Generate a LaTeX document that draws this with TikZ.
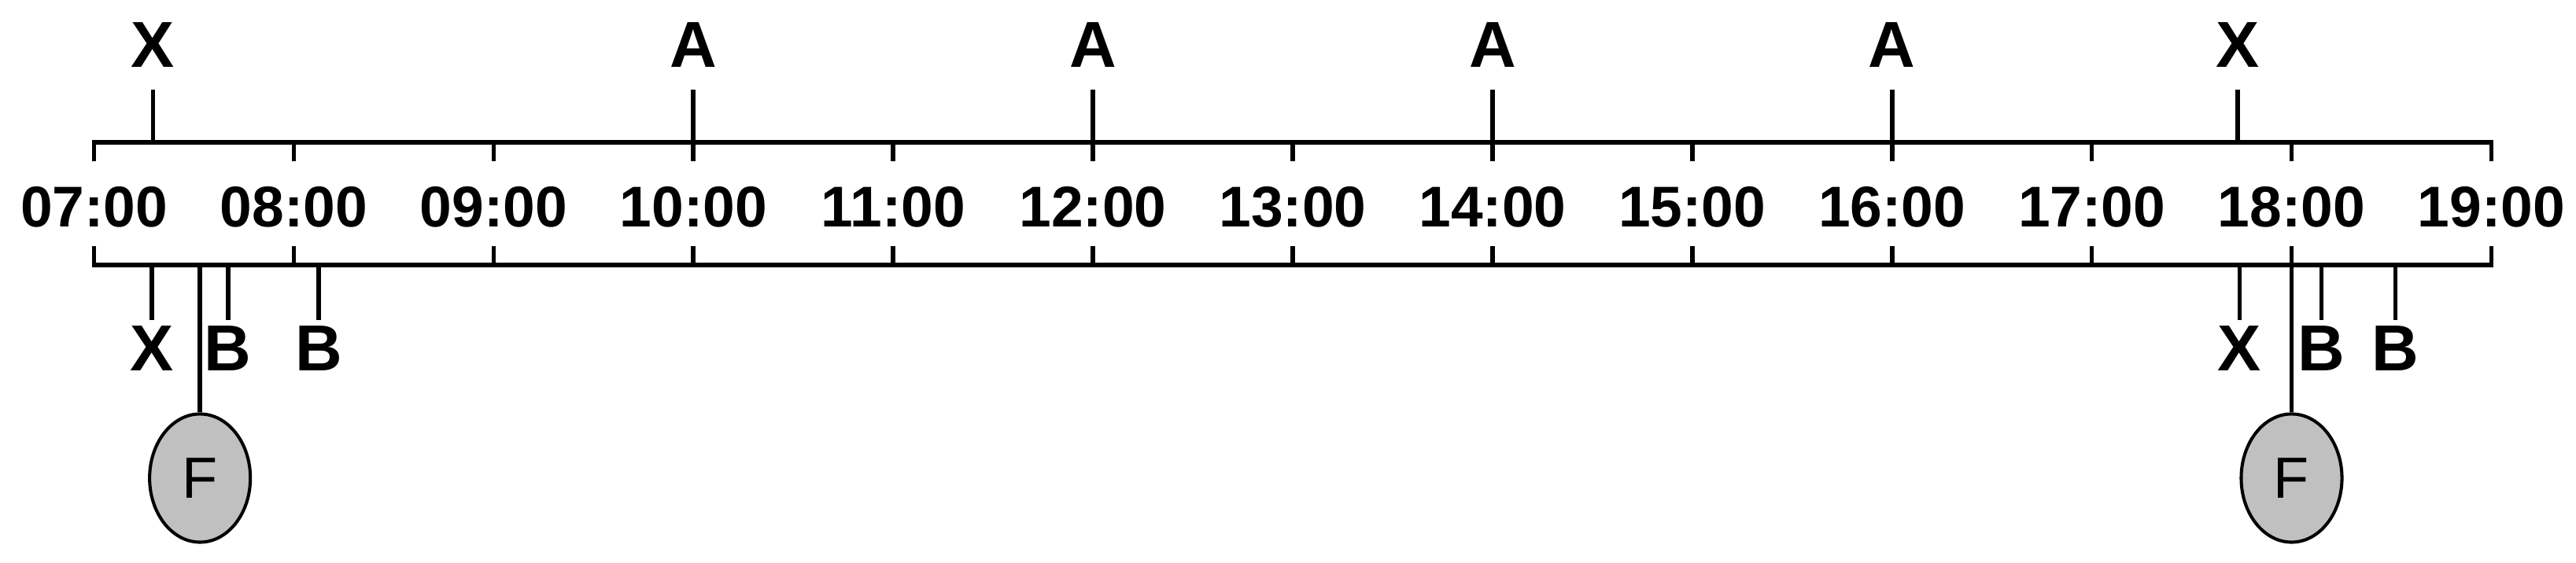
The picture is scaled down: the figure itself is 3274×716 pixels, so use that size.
\documentclass[tikz,border=0pt]{standalone}
\usepackage{fontspec}
\setmainfont{Liberation Sans}
\usetikzlibrary{shapes.geometric}
\begin{document}
\begin{tikzpicture}[x=0.01cm,y=-0.01cm,
  axisline/.style={line width=1.6pt, line cap=rect},
  hourtick/.style={line width=1.6pt},
  hourlabel/.style={font=\fontsize{20.8}{21}\selectfont\bfseries, inner sep=0pt},
  toplabel/.style={font=\fontsize{23.5}{24}\selectfont\bfseries, inner sep=0pt, outer sep=0.28cm},
  botlabel/.style={font=\fontsize{23.5}{24}\selectfont\bfseries, inner sep=0pt, outer sep=0.08cm},
  fnode/.style={ellipse, draw, line width=1.15pt, fill=fgray, minimum width=1.28cm, minimum height=1.63cm, inner sep=0pt, font=\fontsize{21}{21}\selectfont}
]
\definecolor{fgray}{RGB}{192,192,192}
\useasboundingbox (0,0) rectangle (3274,716);
% hours
\foreach \h/\t in {7/07,8/08,9/09,10/10,11/11,12/12,13/13,14/14,15/15,16/16,17/17,18/18,19/19} {
  \pgfmathsetmacro{\xx}{119.6+253.9*(\h-7)}
  \coordinate (ht\h) at (\xx,181);
  \coordinate (hb\h) at (\xx,337);
  \coordinate (htt\h) at (\xx,205);
  \coordinate (hbb\h) at (\xx,313);
  \draw[hourtick] (ht\h) -- (htt\h);
  \draw[hourtick] (hb\h) -- (hbb\h);
  \node[hourlabel] (lab\h) at (\xx,263) {\t:00};
}
\draw[axisline] (ht7) -- (ht19);
\draw[axisline] (hb7) -- (hb19);
% top markers
\foreach \n/\h/\l in {1/7.295/X, 2/10/A, 3/12/A, 4/14/A, 5/16/A, 6/17.73/X} {
  \pgfmathsetmacro{\xx}{119.6+253.9*(\h-7)}
  \coordinate (tc\n) at (\xx,181);
  \node[toplabel] (top\n) at (\xx,57.5) {\l};
  \draw[hourtick] (tc\n) -- (top\n.south);
}
% bottom markers
\foreach \n/\h/\l in {1/7.29/X, 2/7.67/B, 3/8.125/B, 4/17.74/X, 5/18.15/B, 6/18.52/B} {
  \pgfmathsetmacro{\xx}{119.6+253.9*(\h-7)}
  \coordinate (bc\n) at (\xx,337);
  \node[botlabel] (bot\n) at (\xx,443) {\l};
  \draw[hourtick] (bc\n) -- (bot\n.north);
}
% F nodes
\foreach \n/\h in {1/7.53, 2/18.0} {
  \pgfmathsetmacro{\xx}{119.6+253.9*(\h-7)}
  \coordinate (fc\n) at (\xx,337);
  \node[fnode] (f\n) at (\xx,608) {F};
  \draw[hourtick] (fc\n) -- (f\n.north);
}
\end{tikzpicture}
\end{document}
